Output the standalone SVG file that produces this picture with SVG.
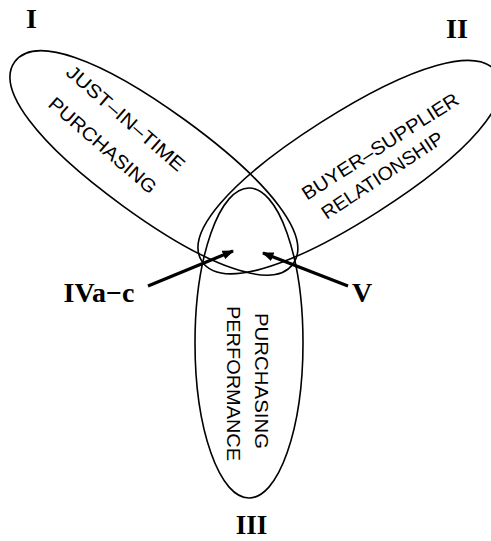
<svg xmlns="http://www.w3.org/2000/svg" width="491" height="541" viewBox="0 0 491 541">
<defs>
<style>
.shape{fill:none;stroke:#000;stroke-width:1.6}
.lbl{font-family:"Liberation Sans",Arial,sans-serif;font-size:19px;fill:#000;text-anchor:middle}
.num{font-family:"Liberation Serif","Times New Roman",serif;font-size:28px;font-weight:bold;fill:#000;text-anchor:middle}
.arrow{fill:none;stroke:#000;stroke-width:3.2;marker-end:url(#head)}
</style>
<marker id="head" viewBox="0 0 10 8" refX="9" refY="4" markerWidth="3.6" markerHeight="3" orient="auto" markerUnits="strokeWidth">
<path d="M0,0 L10,4 L0,8 Z" fill="#000"/>
</marker>
</defs>
<rect width="491" height="541" fill="#fff"/>
<g id="node-I">
<path class="shape" transform="translate(153.9,162.9) rotate(36)" d="M172,0 C172,32.9 106.6,53 0,53 C-106.6,53 -172,32.9 -172,0 C-172,-32.9 -106.6,-53 0,-53 C106.6,-53 172,-32.9 172,0Z"/>
<text class="lbl" transform="translate(126,118) rotate(41)" y="7" textLength="150" lengthAdjust="spacingAndGlyphs">JUST–IN–TIME</text>
<text class="lbl" transform="translate(103,145) rotate(41)" y="7" textLength="136" lengthAdjust="spacingAndGlyphs">PURCHASING</text>
<text class="num" x="31.5" y="28">I</text>
</g>
<g id="node-II">
<path class="shape" transform="translate(349.4,167.1) rotate(-32.5)" d="M175,0 C175,32.9 108.5,53 0,53 C-108.5,53 -175,32.9 -175,0 C-175,-32.9 -108.5,-53 0,-53 C108.5,-53 175,-32.9 175,0Z"/>
<text class="lbl" transform="translate(380,146) rotate(-32.5)" y="7" textLength="182" lengthAdjust="spacingAndGlyphs">BUYER–SUPPLIER</text>
<text class="lbl" transform="translate(382,175) rotate(-33.5)" y="7" textLength="142" lengthAdjust="spacingAndGlyphs">RELATIONSHIP</text>
<text class="num" x="457" y="38">II</text>
</g>
<g id="node-III">
<ellipse class="shape" cx="249" cy="343" rx="54" ry="155"/>
<text class="lbl" transform="translate(261.5,381) rotate(90)" y="7" textLength="136" lengthAdjust="spacingAndGlyphs">PURCHASING</text>
<text class="lbl" transform="translate(233.5,383.5) rotate(90)" y="7" textLength="155" lengthAdjust="spacingAndGlyphs">PERFORMANCE</text>
<text class="num" x="251.5" y="534" style="font-size:27px">III</text>
</g>
<g id="connectors">
<line class="arrow" x1="148" y1="286" x2="233" y2="251"/>
<line class="arrow" x1="348" y1="286" x2="263" y2="253"/>
</g>
<g id="label-IV">
<text class="num" x="99" y="302">IVa−c</text>
</g>
<g id="label-V">
<text class="num" x="362" y="302">V</text>
</g>
</svg>
